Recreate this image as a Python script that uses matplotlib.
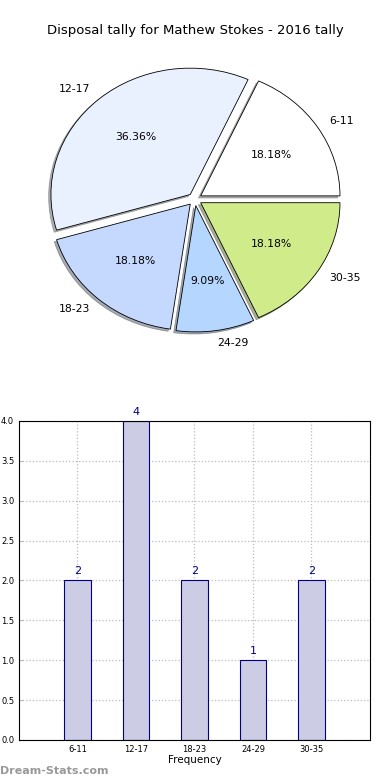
import matplotlib
matplotlib.use("Agg")
import matplotlib.pyplot as plt

# data
categories = ["6-11", "12-17", "18-23", "24-29", "30-35"]
counts = [2, 4, 2, 1, 2]
pie_colors = ["#FFFFFF", "#EAF1FE", "#C5D8FE", "#B5D6FE", "#D0EB8A"]
title = "Disposal tally for Mathew Stokes - 2016 tally"

fig = plt.figure(figsize=(3.9, 7.8), dpi=100)

# pie (old style, not forced round)
ax_pie = fig.add_axes([0.053, 0.542, 0.893, 0.405])
ax_pie.pie(counts, labels=categories, colors=pie_colors, autopct="%.2f%%",
           explode=[0.05] * len(counts),
           shadow={"ox": -0.012, "oy": -0.012, "shade": 0.6}, startangle=0,
           wedgeprops={"edgecolor": "black", "linewidth": 0.6},
           textprops={"fontsize": 7.8})
ax_pie.set_aspect("auto")
ax_pie.set_xlim(-1.25, 1.25)
ax_pie.set_ylim(-1.25, 1.25)
fig.text(0.5, 0.961, title, ha="center", va="center", fontsize=9.5)

# bar chart
ax = fig.add_axes([0.0487, 0.0513, 0.9, 0.409])
xs = list(range(len(categories)))
bars = ax.bar(xs, counts, width=0.45, color="#CCCCE5", edgecolor="#000080",
              linewidth=0.8, zorder=2)
for b, v in zip(bars, counts):
    ax.text(b.get_x() + b.get_width() / 2, v + 0.05, str(v), ha="center",
            va="bottom", color="#000080", fontsize=8)
ax.set_xlim(-1, 5)
ax.set_ylim(0, 4)
ax.set_xticks(xs)
ax.set_xticklabels(categories)
ax.set_yticks([i * 0.5 for i in range(9)])
ax.tick_params(labelsize=6, length=3, color="#BBBBBB", direction="in")
ax.grid(True, linestyle=":", color="#BBBBBB", linewidth=0.9, zorder=0)
ax.set_axisbelow(True)
ax.set_xlabel("Frequency", fontsize=7.5, labelpad=1)

fig.text(0.0, 0.012, "Dream-Stats.com", ha="left", va="center",
         fontsize=8, color="#999999", fontweight="bold")

fig.savefig("out.png", dpi=100)
